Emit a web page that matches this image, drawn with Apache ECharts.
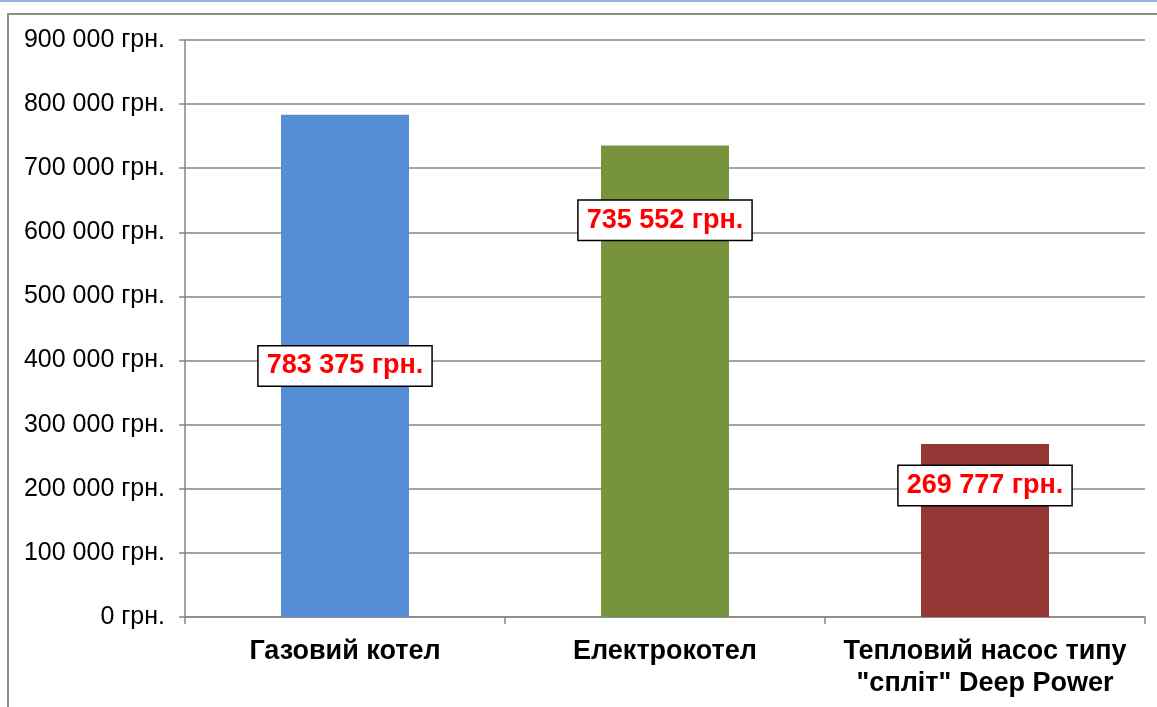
<!DOCTYPE html>
<html>
<head>
<meta charset="utf-8">
<script src="https://cdn.jsdelivr.net/npm/echarts@6/dist/echarts.min.js"></script>
<style>
  html, body { margin: 0; padding: 0; background: #fff; }
  #main { width: 1157px; height: 707px; }
</style>
</head>
<body>
<div id="main"></div>
<script>
// categories and values
var categories = ['Газовий котел', 'Електрокотел', 'Тепловий насос типу\n"спліт" Deep Power'];
var costs = [783375, 735552, 269777];
var barColors = ['#558ED5', '#77933C', '#953735'];
// vertical shift of each value label from the bar centre
var labelShift = [0, -161, -45];

function fmt(v) {
  return String(v).replace(/\B(?=(\d{3})+(?!\d))/g, ' ') + ' грн.';
}

var chart = echarts.init(document.getElementById('main'));

chart.setOption({
  backgroundColor: '#fff',
  animation: false,
  graphic: [{
    type: 'rect',
    shape: { x: 8, y: 14, width: 1160, height: 710 },
    style: { fill: 'none', stroke: '#8c8c8c', lineWidth: 2 },
    silent: true
  }, {
    type: 'rect',
    shape: { x: 0, y: 0, width: 1157, height: 2 },
    style: { fill: '#8DB4E2' },
    silent: true
  }],
  grid: {
    left: 185,
    right: 12,
    top: 40,
    bottom: 90
  },
  xAxis: {
    type: 'category',
    data: categories,
    axisLine: { lineStyle: { color: '#868686', width: 1.5 } },
    axisTick: { show: true, interval: 0, length: 7, lineStyle: { color: '#868686', width: 1.5 } },
    axisLabel: {
      interval: 0,
      hideOverlap: false,
      color: '#000',
      fontFamily: 'Liberation Sans, Arial, sans-serif',
      fontWeight: 'bold',
      fontSize: 27,
      lineHeight: 32,
      margin: 19
    }
  },
  yAxis: {
    type: 'value',
    min: 0,
    max: 900000,
    interval: 100000,
    axisLine: { show: true, lineStyle: { color: '#868686', width: 1.5 } },
    axisTick: { show: true, length: 6, lineStyle: { color: '#868686', width: 1.5 } },
    splitLine: { lineStyle: { color: '#868686', width: 1.5 } },
    axisLabel: {
      color: '#000',
      fontFamily: 'Liberation Sans, Arial, sans-serif',
      fontSize: 25,
      margin: 20,
      formatter: function (v) { return fmt(v); }
    }
  },
  series: [{
    type: 'bar',
    barWidth: '40%',
    data: costs.map(function (v, i) {
      return {
        value: v,
        itemStyle: { color: barColors[i] },
        label: { offset: [0, labelShift[i]] }
      };
    }),
    label: {
      show: true,
      position: 'inside',
      formatter: function (p) { return fmt(p.value); },
      color: '#FF0000',
      fontFamily: 'Liberation Sans, Arial, sans-serif',
      fontWeight: 'bold',
      fontSize: 27,
      lineHeight: 28,
      backgroundColor: '#fff',
      borderColor: '#000',
      borderWidth: 1.5,
      padding: [6, 8, 5, 8]
    }
  }]
});
</script>
</body>
</html>
